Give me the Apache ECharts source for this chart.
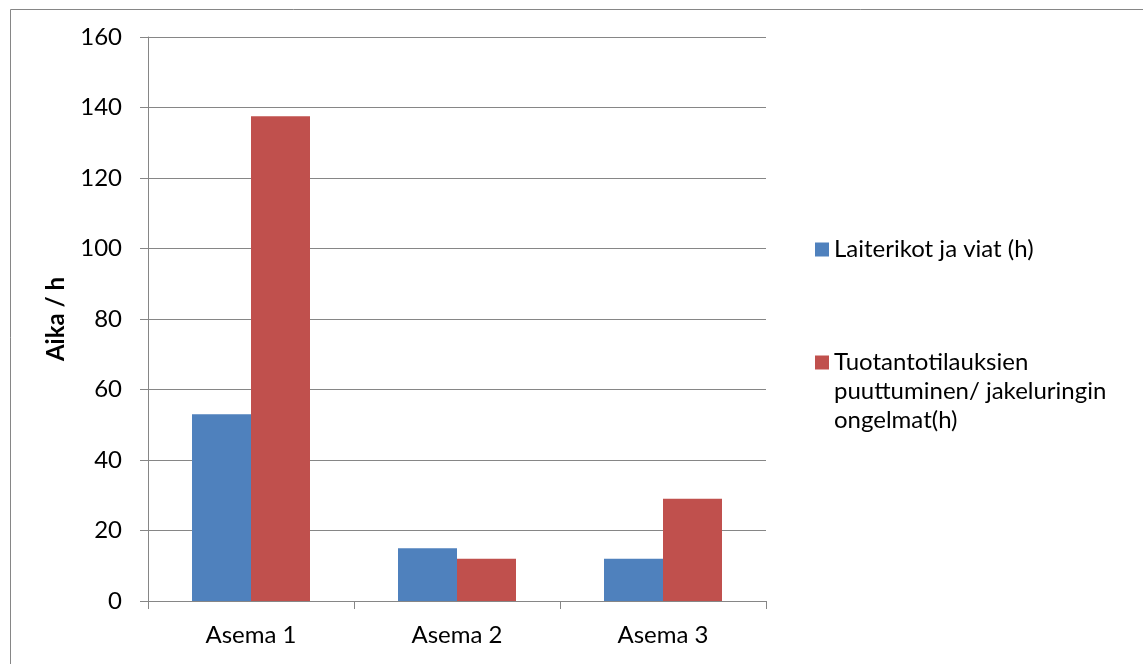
<!DOCTYPE html>
<html>
<head>
<meta charset="utf-8">
<title>Aika / h</title>
<script src="https://cdn.jsdelivr.net/npm/echarts@6/dist/echarts.min.js"></script>
<style>
  html, body { margin: 0; padding: 0; background: #ffffff; }
  #chart { width: 1143px; height: 664px; }
</style>
</head>
<body>
<div id="chart"></div>
<script>
// Stations on the category axis
const categories = ['Asema 1', 'Asema 2', 'Asema 3'];

// Hours per station for each downtime cause
const seriesNames = [
  'Laiterikot ja viat (h)',
  'Tuotantotilauksien puuttuminen/ jakeluringin ongelmat(h)'
];
const laiterikot = [53, 15, 12];
const tuotantotilaukset = [137.5, 12, 29];

// Value axis ticks
const yTicks = [0, 20, 40, 60, 80, 100, 120, 140, 160];

const FONT = 'Lato, "Open Sans", sans-serif';
const GREY = '#868686';

const chart = echarts.init(document.getElementById('chart'), null, { renderer: 'canvas' });

chart.setOption({
  backgroundColor: '#ffffff',
  animation: false,
  textStyle: { fontFamily: FONT, color: '#000000' },
  graphic: [{
    type: 'rect',
    left: 8, top: 7,
    shape: { width: 1133, height: 670 },
    style: { fill: 'none', stroke: GREY, lineWidth: 1 },
    silent: true
  }],
  grid: { left: 148, top: 37, width: 618, height: 564, containLabel: false },
  xAxis: {
    type: 'category',
    data: categories,
    axisLine: { lineStyle: { color: GREY, width: 1 } },
    axisTick: { show: true, alignWithLabel: false, length: 8, lineStyle: { color: GREY } },
    axisLabel: { color: '#000000', fontSize: 24, fontFamily: FONT, margin: 22 },
    splitLine: { show: false }
  },
  yAxis: {
    type: 'value',
    min: yTicks[0],
    max: yTicks[yTicks.length - 1],
    interval: yTicks[1] - yTicks[0],
    name: 'Aika / h',
    nameLocation: 'middle',
    nameGap: 80,
    nameTextStyle: { fontSize: 24, fontWeight: 'bold', fontFamily: FONT, color: '#000000' },
    axisLine: { show: true, lineStyle: { color: GREY, width: 1 } },
    axisTick: { show: true, length: 8, lineStyle: { color: GREY } },
    axisLabel: { color: '#000000', fontSize: 24, fontFamily: FONT, margin: 26 },
    splitLine: { show: true, lineStyle: { color: GREY, width: 1 } }
  },
  legend: {
    orient: 'vertical',
    left: 810,
    top: 230,
    itemWidth: 14,
    itemHeight: 14,
    itemGap: 26,
    icon: 'rect',
    textStyle: { fontSize: 24, fontFamily: FONT, color: '#000000', lineHeight: 29 },
    data: seriesNames,
    formatter: function (name) {
      // second entry wraps over three lines, first line level with its swatch
      return name === seriesNames[1]
        ? '\n\nTuotantotilauksien\npuuttuminen/ jakeluringin\nongelmat(h)'
        : name;
    }
  },
  series: [
    {
      name: seriesNames[0],
      type: 'bar',
      data: laiterikot,
      barWidth: 59,
      barGap: '0%',
      itemStyle: { color: '#4F81BD' }
    },
    {
      name: seriesNames[1],
      type: 'bar',
      data: tuotantotilaukset,
      barWidth: 59,
      barGap: '0%',
      itemStyle: { color: '#C0504D' }
    }
  ]
});
</script>
</body>
</html>
